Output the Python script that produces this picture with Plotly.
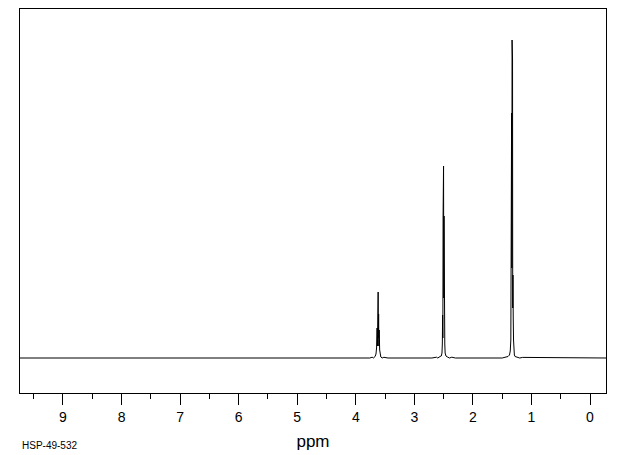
import plotly.graph_objects as go

# Spectrum samples (ppm, relative intensity)
ppm = [9.734, 8.0, 6.0, 4.2, 3.90, 3.80, 3.76, 3.72, 3.70, 3.67, 3.655, 3.645, 3.636, 3.630, 3.626,
       3.622, 3.618, 3.614, 3.610, 3.606, 3.600, 3.592, 3.585, 3.572, 3.55, 3.52, 3.45,
       2.70, 2.62, 2.60, 2.56, 2.54, 2.528, 2.522, 2.517, 2.513, 2.509, 2.505, 2.501,
       2.497, 2.493, 2.489, 2.485, 2.480, 2.474, 2.46, 2.44, 2.40, 2.36, 2.30,
       1.50, 1.45, 1.40, 1.375, 1.362, 1.352, 1.347, 1.343, 1.339, 1.335, 1.331, 1.327,
       1.323, 1.320, 1.316, 1.311, 1.306, 1.300, 1.292, 1.28, 1.25, 1.20, 1.15, 0.5, -0.273]
intensity = [0, 0, 0, 0, 0, 0.6, 0, 0.8, 0, 1.5, 4, 10, 30, 12, 44,
             20, 66, 20, 44, 12, 28, 8, 3, 1, 0, 0.7, 0,
             0, 0.8, 0, 1.5, 2, 5, 14, 43, 20, 142, 60, 192,
             60, 142, 20, 43, 14, 5, 2, 1.2, 0, 0.8, 0,
             0, 0.7, 1.5, 3, 7, 18, 83, 40, 245, 90, 318, 90,
             299, 50, 83, 40, 18, 7, 3, 1.5, 1.0, 0, 0.6, 0, 0]

tick_vals = [9, 8, 7, 6, 5, 4, 3, 2, 1, 0]
tick_text = ["9", "8", "7", "6", "5", "4", "3", "2", "1", "0"]

fig = go.Figure()
fig.add_trace(go.Scatter(x=ppm, y=intensity, mode="lines",
                         line=dict(color="black", width=1), hoverinfo="skip"))

fig.update_layout(
    width=612, height=447,
    margin=dict(l=12, r=14, t=1, b=62),
    paper_bgcolor="white", plot_bgcolor="white",
    showlegend=False,
    font=dict(family="Liberation Sans, DejaVu Sans, sans-serif", color="black"),
    xaxis=dict(
        range=[9.734, -0.273], showgrid=False, zeroline=False,
        showline=True, mirror=True, linecolor="black", linewidth=1,
        tickmode="array", tickvals=tick_vals, ticktext=tick_text,
        ticks="outside", ticklen=11, tickwidth=1, tickcolor="black",
        tickfont=dict(size=14),
        minor=dict(dtick=0.5, tick0=0, ticks="outside", ticklen=5, tickwidth=1, tickcolor="black"),
        title=dict(text="ppm", font=dict(size=17), standoff=11),
    ),
    yaxis=dict(
        range=[-35, 349], showgrid=False, zeroline=False,
        showline=True, mirror=True, linecolor="black", linewidth=1,
        showticklabels=False, ticks="",
    ),
    annotations=[dict(text="HSP-49-532", x=0, y=-52 / 384, xref="paper", yref="paper",
                      showarrow=False, font=dict(size=10), xanchor="left", yanchor="middle")],
)

fig.write_html("out.html")
